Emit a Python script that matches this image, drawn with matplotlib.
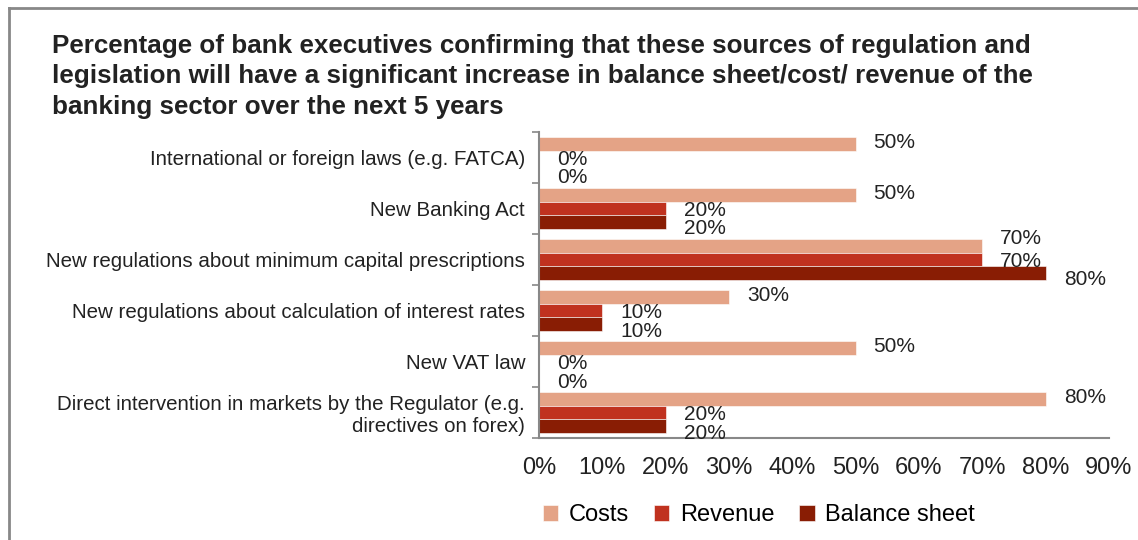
import matplotlib.pyplot as plt
from matplotlib.lines import Line2D
import numpy as np

plt.rcParams['font.family'] = ['Liberation Sans', 'DejaVu Sans']

categories = ['International or foreign laws (e.g. FATCA)',
              'New Banking Act',
              'New regulations about minimum capital prescriptions',
              'New regulations about calculation of interest rates',
              'New VAT law',
              'Direct intervention in markets by the Regulator (e.g.\ndirectives on forex)']
costs = [50, 50, 70, 30, 50, 80]
revenue = [0, 20, 70, 10, 0, 20]
balance = [0, 20, 80, 10, 0, 20]
series_names = ['Costs', 'Revenue', 'Balance sheet']
colors = ['#E4A386', '#C0321F', '#891D04']
xticks = [0, 10, 20, 30, 40, 50, 60, 70, 80, 90]

fig = plt.figure(figsize=(11.38, 5.4), dpi=100)
ax = fig.add_axes([0.4736, 0.1889, 0.5009, 0.5667])

n = len(categories)
y = np.arange(n)[::-1].astype(float)
h = 0.265
offsets = [-h, 0, h]
label_dy = [-1, 2, 7]  # pixel shifts of value labels, per series

for k, (vals, off, col, name, dy) in enumerate(zip([costs, revenue, balance], offsets, colors, series_names, label_dy)):
    bars = ax.barh(y - off, vals, height=h, color=col, label=name, edgecolor='white', linewidth=0.4)
    for i, (b, v) in enumerate(zip(bars, vals)):
        shift = dy
        # lift the costs label when it would sit on top of an equal revenue label
        if k == 0 and v == revenue[i]:
            shift -= 6
        ax.annotate(f'{v}%', (v, b.get_y() + b.get_height() / 2),
                    xytext=(18, -shift), textcoords='offset pixels',
                    va='center', ha='left', fontsize=15, color='#222222')

ax.set_xlim(0, 90)
ax.set_ylim(-0.5, n - 0.5)
ax.set_xticks(xticks)
ax.set_xticklabels([f'{t}%' for t in xticks], fontsize=17, color='#222222')
ax.tick_params(axis='x', length=0, pad=14)
ax.set_yticks(y)
ax.set_yticklabels(categories, fontsize=14.8, color='#222222')
ax.tick_params(axis='y', which='major', length=0, pad=10)
ax.set_yticks(np.arange(n + 1) - 0.5, minor=True)
ax.tick_params(axis='y', which='minor', length=5, color='#888888', width=1.2)
for s in ['top', 'right']:
    ax.spines[s].set_visible(False)
for s in ['left', 'bottom']:
    ax.spines[s].set_color('#888888')
    ax.spines[s].set_linewidth(1.5)

fig.text(52 / 1138, 1 - 34 / 540,
         'Percentage of bank executives confirming that these sources of regulation and\n'
         'legislation will have a significant increase in balance sheet/cost/ revenue of the\n'
         'banking sector over the next 5 years',
         fontsize=18.7, fontweight='bold', color='#222222', va='top', ha='left', linespacing=1.33)

fig.legend(loc='center', bbox_to_anchor=(759 / 1138, 1 - 515 / 540), ncol=3, frameon=False,
           fontsize=17, handlelength=0.65, handleheight=0.65, handletextpad=0.45, columnspacing=1.05)

fig.add_artist(Line2D([9 / 1138, 9 / 1138], [0, 1 - 8 / 540], color='#888888', linewidth=2))
fig.add_artist(Line2D([9 / 1138, 1], [1 - 8 / 540, 1 - 8 / 540], color='#888888', linewidth=2))

fig.savefig('out.png', dpi=100)
